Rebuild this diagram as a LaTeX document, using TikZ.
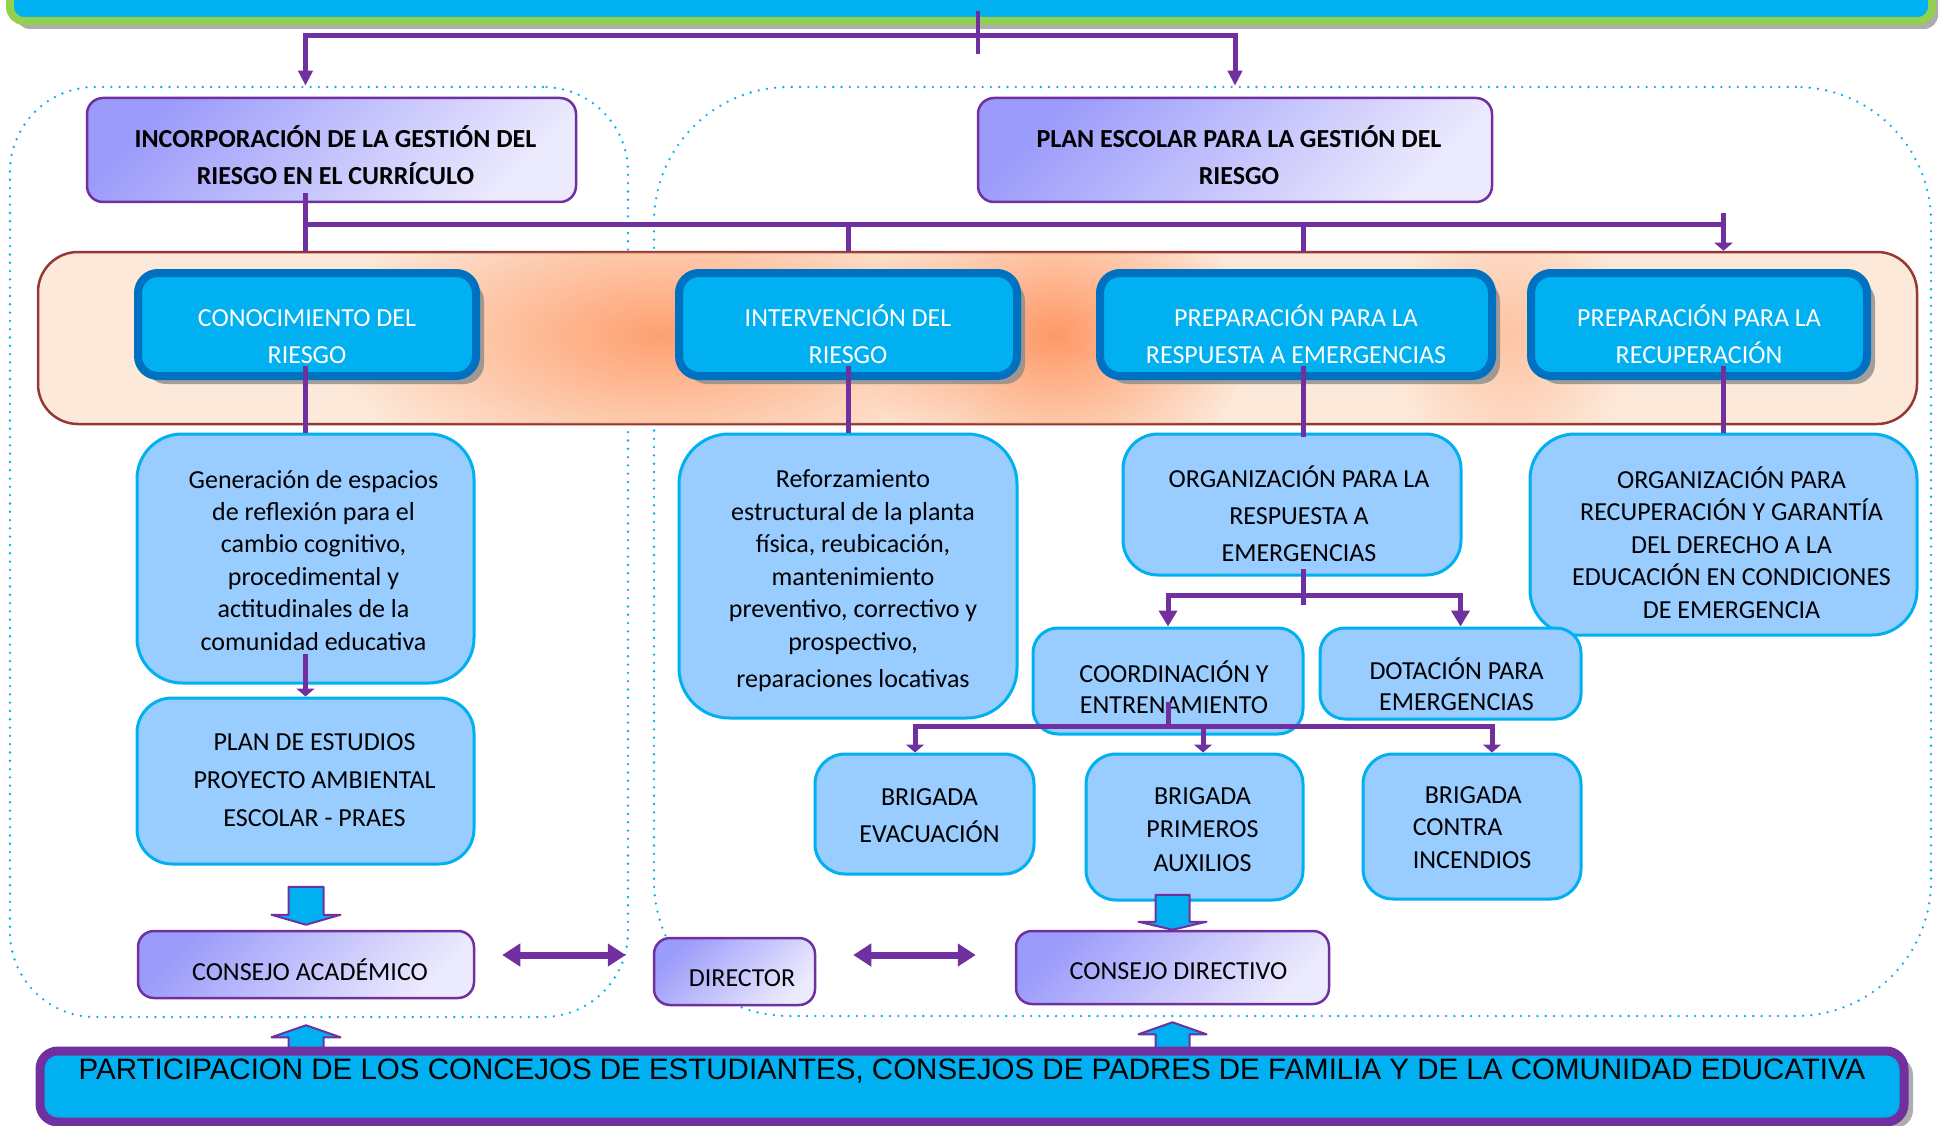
\documentclass[tikz,border=0pt]{standalone}
\usepackage{fontspec}
\setmainfont{Carlito}
\newfontfamily\arialfont{Liberation Sans}
\usetikzlibrary{arrows.meta, calc, shadows, fadings}

\definecolor{skyblue}{HTML}{00B0F0}
\definecolor{deepblue}{HTML}{0070C0}
\definecolor{paleblue}{HTML}{99CCFF}
\definecolor{purp}{HTML}{7030A0}
\definecolor{lavdark}{HTML}{9B9BFB}
\definecolor{lavlight}{HTML}{ECEAFD}
\definecolor{peach}{HTML}{FDE9D9}
\definecolor{brick}{HTML}{953735}
\definecolor{glow}{HTML}{FF9966}
\definecolor{leaf}{HTML}{92D050}

\tikzfading[name=glowfade, inner color=transparent!0, outer color=transparent!100]

\newcommand\padtop[1]{\rule{0pt}{#1pt}}
\newcommand\padbot[1]{\rule[-#1pt]{0pt}{#1pt}}

\begin{document}
\begin{tikzpicture}[x=1pt, y=-1pt,
  headtop/.tip={Triangle[width=14pt,length=15pt]},
  headflat/.tip={Triangle[width=18pt,length=8pt]},
  headlong/.tip={Triangle[width=18pt,length=16pt]},
  headbig/.tip={Triangle[width=22pt,length=18pt]},
  zone/.style={draw=skyblue, line width=2.6pt, line cap=round, dash pattern=on 0pt off 8.3pt, rounded corners=#1, inner sep=0pt},
  stage/.style={draw=deepblue, fill=skyblue, line width=8pt, rounded corners=20pt, text=white, align=center, inner sep=0pt,
    font=\fontsize{26}{37}\selectfont, drop shadow={shadow xshift=8pt, shadow yshift=-8pt, fill=black!45, opacity=.8}},
  soft/.style={draw=skyblue, fill=paleblue, line width=3pt, rounded corners=#1, align=center, inner sep=0pt},
  soft/.default=30pt,
  lav/.style={draw=purp, line width=2.5pt, top color=lavdark, bottom color=lavlight, shading angle=45, rounded corners=16pt,
    align=center, inner sep=0pt, font=\fontsize{26}{37}\selectfont},
  nudge/.style={align=flush center, execute at begin node={\advance\leftskip by #1pt}},
  link/.style={draw=purp, line width=5pt},
  twoway/.style={draw=purp, line width=7pt, {headbig}-{headbig}},
  blockarrow/.style={draw=purp, fill=skyblue, line width=2pt, line join=round}]

\useasboundingbox (0,0) rectangle (1941,1126);

% dotted zones
\node[zone=85pt, minimum width=618pt, minimum height=930pt] (leftzone) at (319,552) {};
\node[zone=135pt, minimum width=1277pt, minimum height=929pt] (rightzone) at (1292.5,551.5) {};

% top banner
\node[draw=leaf, fill=skyblue, line width=8pt, rounded corners=14pt, minimum width=1922pt, minimum height=61pt, inner sep=0pt,
  drop shadow={shadow xshift=6pt, shadow yshift=-8pt, fill=black!40, opacity=.8}] (banner) at (971,-9.5) {};

% band of the four processes
\node[draw=brick, fill=peach, line width=2.5pt, rounded corners=40pt, minimum width=1879pt, minimum height=172pt] (band) at (977.5,338) {};
\begin{scope}
\clip[rounded corners=38pt] ([shift={(1.5pt,1.5pt)}]band.south west) rectangle ([shift={(-1.5pt,-1.5pt)}]band.north east);
\fill[glow, path fading=glowfade, opacity=.9] (660,335) ellipse (340 and 150);
\fill[glow, path fading=glowfade] (1055,335) ellipse (200 and 150);
\fill[glow, path fading=glowfade, opacity=.45] (1510,335) ellipse (120 and 150);
\end{scope}

\node[lav, font=\bfseries\fontsize{26}{37}\selectfont, text width=469pt, nudge=8, minimum width=489pt, minimum height=104pt] (incorp) at (331.5,150)
  {\padtop{39}INCORPORACIÓN DE LA GESTIÓN DEL\\RIESGO EN EL CURRÍCULO\padbot{6}};
\node[lav, font=\bfseries\fontsize{26}{37}\selectfont, text width=494pt, nudge=8, minimum width=514pt, minimum height=104pt] (plan) at (1235,150)
  {\padtop{39}PLAN ESCOLAR PARA LA GESTIÓN DEL\\RIESGO\padbot{6}};

\node[stage, minimum width=338pt, minimum height=103pt] (cono) at (307,324.5) {\padtop{46}CONOCIMIENTO DEL\\RIESGO\padbot{6}};
\node[stage, minimum width=338pt, minimum height=103pt] (inter) at (848,324.5) {\padtop{46}INTERVENCIÓN DEL\\RIESGO\padbot{6}};
\node[stage, minimum width=392pt, minimum height=103pt] (prep) at (1296,324.5) {\padtop{46}PREPARACIÓN PARA LA\\RESPUESTA A EMERGENCIAS\padbot{6}};
\node[stage, minimum width=336pt, minimum height=103pt] (recu) at (1699,324.5) {\padtop{46}PREPARACIÓN PARA LA\\RECUPERACIÓN\padbot{6}};

\node[soft=45pt, font=\fontsize{26}{32.4}\selectfont, text width=317pt, nudge=16, minimum width=337pt, minimum height=249pt] (gen) at (305.5,558.5)
  {\padtop{27}Generación de espacios\\de reflexión para el\\cambio cognitivo,\\procedimental y\\actitudinales de la\\comunidad educativa\padbot{6}};
\node[soft=35pt, font=\fontsize{26}{38}\selectfont, text width=317pt, nudge=18, minimum width=337pt, minimum height=166pt] (praes) at (305.5,781)
  {\padtop{20}PLAN DE ESTUDIOS\\PROYECTO AMBIENTAL\\ESCOLAR - PRAES\padbot{6}};
\node[soft=50pt, font=\fontsize{26}{32.5}\selectfont, text width=318pt, nudge=10, minimum width=338pt, minimum height=284pt] (reforz) at (848,576)
  {\padtop{29}Reforzamiento\\estructural de la planta\\física, reubicación,\\mantenimiento\\preventivo, correctivo y\\prospectivo,\\[4.5pt]reparaciones locativas\padbot{6}};
\node[soft=35pt, font=\fontsize{26}{37}\selectfont, text width=318pt, nudge=14, minimum width=338pt, minimum height=141pt] (orgresp) at (1292,504.5)
  {\padtop{45}ORGANIZACIÓN PARA LA\\RESPUESTA A\\EMERGENCIAS\padbot{6}};
\node[soft=45pt, font=\fontsize{26}{32.5}\selectfont, text width=367pt, nudge=16, minimum width=387pt, minimum height=201pt] (orgrec) at (1723.5,534.5)
  {\padtop{43}ORGANIZACIÓN PARA\\RECUPERACIÓN Y GARANTÍA\\DEL DERECHO A LA\\EDUCACIÓN EN CONDICIONES\\DE EMERGENCIA\padbot{6}};
\node[soft=25pt, font=\fontsize{26}{31}\selectfont, text width=250pt, nudge=12, minimum width=270pt, minimum height=106pt] (coord) at (1168,681)
  {\padtop{39}COORDINACIÓN Y\\ENTRENAMIENTO\padbot{6}};
\node[soft=25pt, font=\fontsize{26}{31}\selectfont, text width=241pt, nudge=12, minimum width=261pt, minimum height=91pt] (dot) at (1450.5,673.5)
  {\padtop{48}DOTACIÓN PARA\\EMERGENCIAS\padbot{6}};
\node[soft, font=\fontsize{26}{37}\selectfont, text width=199pt, nudge=10, minimum width=219pt, minimum height=120pt] (evac) at (924.5,814)
  {\padtop{25}BRIGADA\\EVACUACIÓN\padbot{6}};
\node[soft, font=\fontsize{26}{33.5}\selectfont, text width=197pt, nudge=16, minimum width=217pt, minimum height=146pt] (prim) at (1194.5,827)
  {\padtop{27}BRIGADA\\PRIMEROS\\AUXILIOS\padbot{6}};
\node[soft, align=left, font=\fontsize{26}{32.5}\selectfont, minimum width=218pt, minimum height=145pt] (incend) at (1472,826.5)
  {\padtop{24}\hspace*{12pt}BRIGADA\\CONTRA\\INCENDIOS\padbot{6}};

\node[lav, text width=316pt, nudge=8, minimum width=336pt, minimum height=67pt] (acad) at (306,964.5) {\padtop{37}CONSEJO ACADÉMICO\padbot{6}};
\node[lav, text width=141pt, nudge=15, minimum width=161pt, minimum height=67pt] (dir) at (734.5,971.5) {\padtop{35}DIRECTOR\padbot{6}};
\node[lav, text width=293pt, nudge=12, minimum width=313pt, minimum height=73pt] (cdir) at (1172.5,967.5) {\padtop{29}CONSEJO DIRECTIVO\padbot{6}};

% up arrows from the participation bar
\draw[blockarrow] ([yshift=-26pt]acad.south) -- ++(34.5,12) -- ++(-17,0) -- ++(0,16) -- ++(-35,0) -- ++(0,-16) -- ++(-17,0) -- cycle;
\draw[blockarrow] ([yshift=-17pt]cdir.south) -- ++(34,12) -- ++(-17,0) -- ++(0,19) -- ++(-34,0) -- ++(0,-19) -- ++(-17,0) -- cycle;

\node[draw=purp, fill=skyblue, line width=9pt, rounded corners=18pt, minimum width=1864pt, minimum height=71pt, inner sep=0pt,
  font=\arialfont\fontsize{29.5}{34}\selectfont, drop shadow={shadow xshift=9pt, shadow yshift=-6pt, fill=black!40, opacity=.8}] (partic) at (972,1086.5)
  {\padtop{22}PARTICIPACION DE LOS CONCEJOS DE ESTUDIANTES, CONSEJOS DE PADRES DE FAMILIA Y DE LA COMUNIDAD EDUCATIVA\padbot{37}};

% down arrows
\draw[blockarrow] ([yshift=5pt]acad.north) -- ++(34.5,-10) -- ++(-17,0) -- ++(0,-28) -- ++(-35,0) -- ++(0,28) -- ++(-17,0) -- cycle;
\draw[blockarrow] (cdir.north) -- ++(34,-8) -- ++(-17,0) -- ++(0,-27) -- ++(-34,0) -- ++(0,27) -- ++(-17,0) -- cycle;

% connectors
\coordinate (hub) at (978,36);
\coordinate (hub2) at (1000,225);
\draw[link, line width=4pt] ([xshift=7pt,yshift=14pt]banner.south) -- ++(0,43);
\draw[link, {headtop}-{headtop}] (leftzone.north -| gen.north) |- (hub) -| (rightzone.north -| plan.north);

\draw[link] (incorp.south -| gen.north) ++(0,-10) -- (band.north -| gen.north);
\draw[link] (hub2 -| gen.north) -- (hub2 -| orgrec.north);
\draw[link] (hub2 -| reforz.north) -- (band.north -| reforz.north);
\draw[link] (hub2 -| orgresp.north) ++(11,0) -- ++(0,27);
\draw[link, -{headflat}] (hub2 -| orgrec.north) ++(0,-12) -- (band.north -| orgrec.north);

\draw[link] (gen.north |- cono.south) ++(0,-14) -- (gen.north);
\draw[link] (reforz.north |- inter.south) ++(0,-14) -- (reforz.north);
\draw[link] (orgresp.north |- prep.south) ++(11,-14) -- ++(0,71);
\draw[link] (orgrec.north |- recu.south) ++(0,-14) -- (orgrec.north);

\draw[link, -{headflat}] (gen.south) ++(0,-31) -- (praes.north);

\draw[link] (orgresp.south) ++(11,-8) -- ++(0,36);
\draw[link, {headlong}-{headlong}] (coord.north) |- ($(orgresp.south)+(0,19)$) -| ([xshift=10pt]dot.north);

\draw[link] (coord.south) ++(0,-34) -- ++(0,25);
\draw[link, {headflat}-{headflat}] ([xshift=-9.5pt]evac.north) |- ($(coord.south)+(0,-9)$) -| ([xshift=20pt]incend.north);
\draw[link, -{headflat}] ([xshift=8.5pt]prim.north) ++(0,-28) -- ([xshift=8.5pt]prim.north);

\draw[twoway] ($(acad.east)+(27,-9.5)$) -- ($(dir.west)+(-27,-16.5)$);
\draw[twoway] ($(dir.east)+(37,-16.5)$) -- ($(cdir.west)+(-39,-12.5)$);
\end{tikzpicture}
\end{document}
